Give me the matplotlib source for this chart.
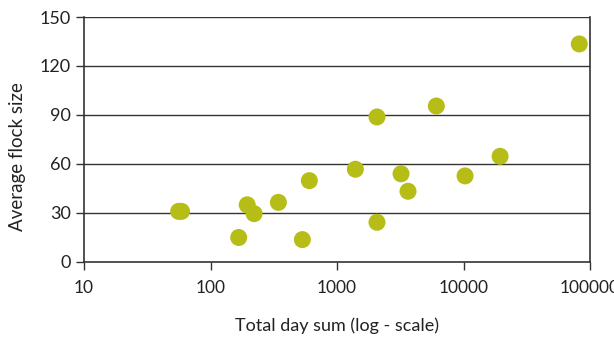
import matplotlib.pyplot as plt
from matplotlib.ticker import FixedLocator, FixedFormatter, NullLocator

# data
day_sum = [56, 59, 167, 195, 221, 344, 532, 604, 1396, 2070, 2070,
           3206, 3640, 6095, 10280, 19450, 82200]
flock_size = [31, 31, 15, 35, 29.6, 36.5, 13.7, 49.8, 56.8, 88.8, 24.3,
              54, 43.3, 95.5, 52.7, 64.7, 133.5]
x_ticks = [10, 100, 1000, 10000, 100000]
x_tick_labels = ['10', '100', '1000', '10000', '100000']
y_ticks = [0, 30, 60, 90, 120, 150]

plt.rcParams['font.family'] = ['Lato', 'DejaVu Sans']

fig = plt.figure(figsize=(6.14, 3.38), dpi=100)
ax = fig.add_axes([0.1368, 0.2249, 0.8242, 0.7248])

ax.set_xscale('log')
ax.set_xlim(10, 100000)
ax.set_ylim(0, 150)

for y in y_ticks[1:]:
    ax.axhline(y, color='#333333', lw=1, zorder=1)

ax.scatter(day_sum, flock_size, s=150, color='#B6BD16', edgecolors='none', zorder=3)

ax.xaxis.set_major_locator(FixedLocator(x_ticks))
ax.xaxis.set_major_formatter(FixedFormatter(x_tick_labels))
ax.xaxis.set_minor_locator(NullLocator())
ax.set_yticks(y_ticks)

for side in ['left', 'bottom', 'right']:
    ax.spines[side].set_color('#333333')
    ax.spines[side].set_linewidth(1.2)
ax.spines['top'].set_visible(False)

ax.tick_params(axis='both', direction='out', length=6, width=1, color='#333333',
               labelsize=13, labelcolor='#222222')
ax.tick_params(axis='x', pad=7, labelsize=12.5)

ax.set_xlabel('Total day sum (log - scale)', fontsize=13, color='#222222')
ax.xaxis.set_label_coords(0.5, -0.225)
ax.set_ylabel('Average flock size', fontsize=13.5, color='#222222')
ax.yaxis.set_label_coords(-0.115, 0.43)

fig.savefig('out.png', dpi=100)
